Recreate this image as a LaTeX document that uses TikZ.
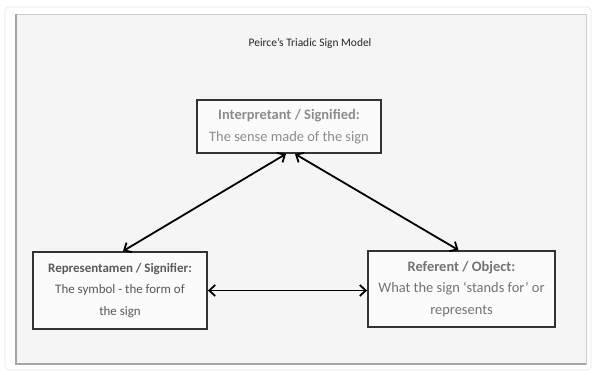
\documentclass[tikz,border=0pt]{standalone}
\usepackage{fontspec}
\setmainfont{Carlito}
\usetikzlibrary{arrows.meta, positioning}
\definecolor{panelfill}{HTML}{F5F5F5}

\begin{document}
\begin{tikzpicture}[x = 1bp, y = -1bp, <->, > = {Straight Barb[length=6bp, width=11bp, line width=1.8bp]}, line width = 1.8bp,
    box/.style = {draw = black!80, fill = white!60!panelfill, line width = 1.8bp, align = center, inner sep = 2bp, font = \fontsize{14.5}{22.5}\selectfont}]
    \useasboundingbox (0,0) rectangle (595,374);
    % panel
    \draw[-, line width = 0.6bp, black!10, rounded corners = 4bp] (5,7) rectangle (591,370);
    \fill[panelfill] (15,14) rectangle (586,365);
    \draw[-, line width = 0.6bp, black!20] (15,14) -- (586,14) -- (586,365);
    \draw[-, line width = 2bp, black!35] (16,14) -- (16,364) -- (586,364);
    \node[font = \fontsize{11.5}{13}\selectfont, text = black!85]	(title) at (310,43)	{Peirce's Triadic Sign Model};
    % boxes
    \node[box, minimum width = 184bp, minimum height = 53bp, text = black!45]	(int) at (289,126.5)
        {\textbf{Interpretant / Signified:}\\The sense made of the sign};
    \node[box, minimum width = 174bp, minimum height = 77bp, text = black!65, font = \fontsize{13}{22}\selectfont]	(rep) at (120,290.5)
        {\textbf{Representamen / Signifier:}\\The symbol - the form of\\the sign};
    \node[box, minimum width = 187bp, minimum height = 76bp, text = black!55, font = \fontsize{14.5}{21.5}\selectfont]	(ref) at (461.5,289)
        {\textbf{Referent / Object:}\\What the sign `stands for' or\\represents};
    % arrows
    \draw	([xshift = -3bp]int.south)	--	([xshift = 3bp]rep.north);
    \draw	([xshift = 6bp]int.south)	--	([xshift = -3bp]ref.north);
    \draw	(rep.east)	--	(rep.east -| ref.west);
\end{tikzpicture}
\end{document}
